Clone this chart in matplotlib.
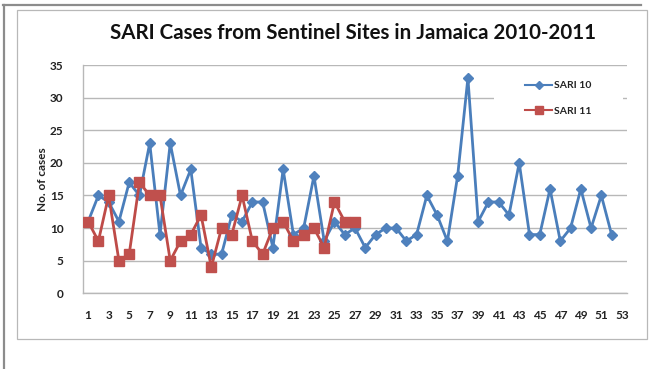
import matplotlib
matplotlib.use("Agg")
import matplotlib.pyplot as plt
from matplotlib.patches import Rectangle
from matplotlib.lines import Line2D

weeks = list(range(1, 54))
sari10 = [11, 15, 14, 11, 17, 15, 23, 9, 23, 15, 19, 7, 6, 6, 12, 11, 14, 14, 7, 19,
          9, 10, 18, 8, 11, 9, 10, 7, 9, 10, 10, 8, 9, 15, 12, 8, 18, 33, 11, 14,
          14, 12, 20, 9, 9, 16, 8, 10, 16, 10, 15, 9]
sari11 = [11, 8, 15, 5, 6, 17, 15, 15, 5, 8, 9, 12, 4, 10, 9, 15, 8, 6, 10, 11,
          8, 9, 10, 7, 14, 11, 11]
tick_labels = [str(w) for w in weeks if w % 2 == 1]
title = "SARI Cases from Sentinel Sites in Jamaica 2010-2011"

W, H = 650, 369
fig = plt.figure(figsize=(W / 100, H / 100), dpi=100)
fig.patch.set_facecolor("white")

# decorative borders (figure pixel coords)
def fx(x): return x / W
def fy(y): return 1 - y / H
fig.add_artist(Line2D([fx(4), fx(4)], [fy(5), fy(369)], color="#8c8c8c", lw=1.6))
fig.add_artist(Line2D([fx(3), fx(641)], [fy(5), fy(5)], color="#8c8c8c", lw=1.6))
fig.add_artist(Rectangle((fx(17), fy(339)), fx(647) - fx(17), fy(10) - fy(339),
                         fill=False, edgecolor="#b8b8b8", lw=0.9))

ax_l, ax_r, ax_t, ax_b = 83, 627, 65, 293.3
ax = fig.add_axes([fx(ax_l), fy(ax_b), fx(ax_r) - fx(ax_l), fy(ax_t) - fy(ax_b)])
ax.set_xlim(0.5, 53.5)
ax.set_ylim(0, 35)
ax.set_yticks(range(0, 36, 5))
ax.set_xticks([w for w in weeks if w % 2 == 1])
ax.set_xticklabels(tick_labels)
ax.grid(axis="y", color="#b8b8b8", lw=1.0)
ax.set_axisbelow(True)
for s in ["top", "right"]:
    ax.spines[s].set_visible(False)
for s in ["left", "bottom"]:
    ax.spines[s].set_color("#b8b8b8")
    ax.spines[s].set_linewidth(1.0)
ax.tick_params(length=0, labelsize=8.5, colors="#222222")
ax.tick_params(axis="y", pad=14)
ax.tick_params(axis="x", pad=12)
for lab in ax.get_xticklabels() + ax.get_yticklabels():
    lab.set_fontfamily("Lato")
    lab.set_fontweight("bold")

ax.plot(weeks[:len(sari10)], sari10, color="#4a7ebb", lw=2.0, marker="D",
        markersize=5, markerfacecolor="#4f81bd", markeredgecolor="#4f81bd",
        label="SARI 10", zorder=3)
ax.plot(weeks[:len(sari11)], sari11, color="#be4b48", lw=2.0, marker="s",
        markersize=6.5, markerfacecolor="#c0504d", markeredgecolor="#c0504d",
        label="SARI 11", zorder=4)

# white legend area hiding part of the gridline
pw = ax_r - ax_l
ph = ax_b - ax_t
ax.add_patch(Rectangle(((494 - ax_l) / pw, (ax_b - 125) / ph), (623 - 494) / pw,
                       (125 - 71) / ph, transform=ax.transAxes,
                       facecolor="white", edgecolor="none", zorder=1))

leg = ax.legend(loc="upper left", bbox_to_anchor=((525 - ax_l) / pw, (ax_b - 81) / ph),
                frameon=False, handlelength=2.6, handletextpad=0.15,
                labelspacing=1.55, borderpad=0, borderaxespad=0,
                prop={"family": "Lato", "weight": "bold", "size": 7.5},
                markerscale=0.8)
for line in leg.get_lines():
    line.set_linewidth(1.5)
for t in leg.get_texts():
    t.set_color("#222222")

ax.set_ylabel("No. of cases", fontfamily="Lato", fontweight="bold", fontsize=8.5,
              color="#222222")
ax.yaxis.set_label_coords((48 - ax_l) / pw, 0.5)

fig.text(fx(352.5), fy(33), title, ha="center", va="center",
         fontfamily="Lato", fontweight="bold", fontsize=14.8, color="#111111")

fig.savefig("out.png", dpi=100)
